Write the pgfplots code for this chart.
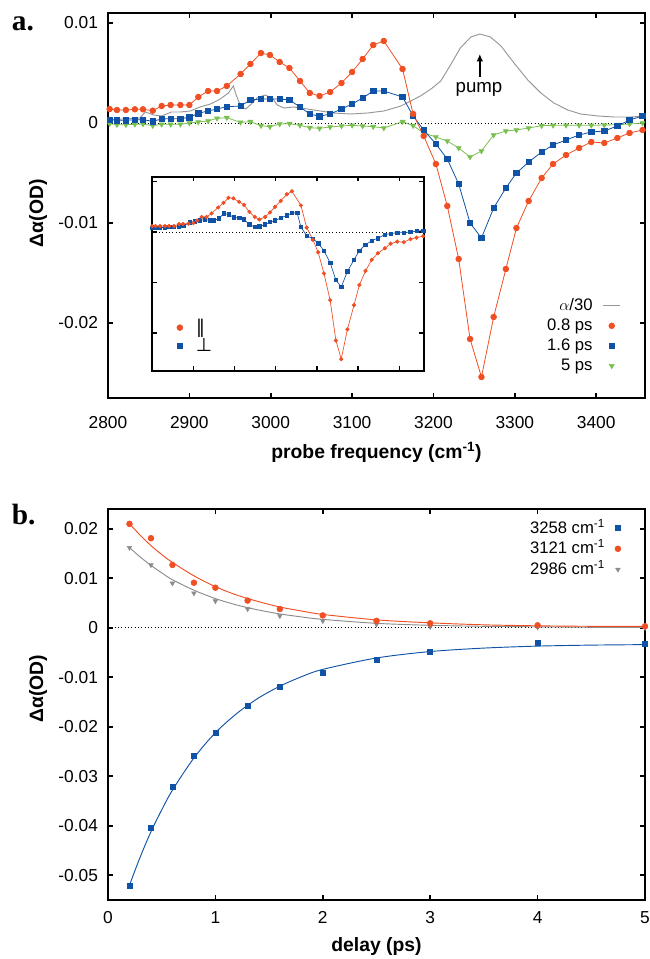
\documentclass[border=0pt]{standalone}
\usepackage{pgfplots}
\pgfplotsset{compat=1.18}
\usepackage{fontspec}
\setmainfont{Liberation Sans}
\newfontfamily\serifbold{Liberation Serif}
\newfontfamily\dejavu{DejaVu Sans}
\usetikzlibrary{arrows.meta}
\definecolor{cred}{RGB}{240,78,35}
\definecolor{cblue}{RGB}{16,82,165}
\definecolor{cgreen}{RGB}{122,192,80}
\definecolor{cgray}{RGB}{150,150,150}
\definecolor{cgrayb}{RGB}{140,140,140}
\pgfplotsset{
  myframe/.style={
    scale only axis,
    scaled ticks=false,
    axis line style={line width=1.6pt},
    every tick/.style={black, line width=1.2pt},
    tick align=inside,
    major tick length=4pt,
    ticklabel style={font=\fontsize{13}{15}\selectfont},
    /pgf/number format/assume math mode=true,
    /pgf/number format/1000 sep={},
    label style={font=\bfseries\fontsize{14.5}{17}\selectfont},
  },
  lgline/.style={legend image code/.code={\draw[##1] (0pt,0pt) -- (13pt,0pt);}},
  lgmarkR/.style={legend image code/.code={\draw[##1] plot coordinates {(6.5pt,0pt)};}},
  lgmarkL/.style={legend image code/.code={\draw[##1] plot coordinates {(0pt,0pt)};}},
}
\begin{document}
\begin{tikzpicture}
\path[use as bounding box] (0pt,0pt) rectangle (486.75pt,-719.25pt);

% ---------------- panel a ----------------
\begin{axis}[myframe,
  at={(81pt,-9.75pt)}, anchor=north west,
  width=402.75pt, height=288.75pt,
  xmin=2800, xmax=3460, ymin=-0.0275, ymax=0.011,
  xtick={2800,2900,...,3400},
  ytick={-0.02,-0.01,0,0.01}, yticklabels={-0.02,-0.01,0,0.01},
  xticklabel style={yshift=-10pt},
  yticklabel style={xshift=-4pt},
  xlabel={probe frequency (cm\textsuperscript{-1})},
  ylabel={Δα(OD)},
  xlabel style={at={(axis description cs:0.5,-0.14)}, anchor=center},
  ylabel style={at={(axis description cs:-0.13,0.48)}, anchor=center},
  legend style={draw=none, fill=none, at={(0.963,0.05)}, anchor=south east,
    font=\fontsize{12.5}{14}\selectfont,
    nodes={inner sep=1.5pt, text height=9.5pt, text depth=2.5pt},
    column sep=6pt, row sep=0pt},
  legend cell align=right, legend plot pos=right,
]
\addlegendimage{lgline, cgray, line width=0.7pt}
\addlegendentry{$\alpha$/30}
\addlegendimage{lgmarkR, only marks, mark=*, cred, mark size=2.2pt}
\addlegendentry{0.8 ps}
\addlegendimage{lgmarkR, only marks, mark=square*, cblue, mark size=2.2pt}
\addlegendentry{1.6 ps}
\addlegendimage{lgmarkR, only marks, mark=triangle*, cgreen, mark size=2.2pt, mark options={rotate=180}}
\addlegendentry{5 ps}

\addplot[black, dotted, line width=0.5pt, forget plot] coordinates {(2800,0) (3460,0)};

% alpha/30
\addplot[cgray, line width=0.7pt, forget plot] coordinates {
(2802,0.00033) (2839,0.0005) (2846,0.0011) (2856,0.0008) (2866,0.0007) (2878,0.0011)
(2889,0.0011) (2901,0.0012) (2913,0.0016) (2926,0.0019) (2938,0.0024) (2948,0.0030)
(2954,0.0037) (2958,0.0027) (2963,0.0017) (2969,0.0014) (2975,0.0018) (2983,0.0025)
(2993,0.0028) (3002,0.0025) (3008,0.0018) (3016,0.0015) (3028,0.0016) (3045,0.0014)
(3061,0.0012) (3077,0.0010) (3098,0.0009) (3119,0.0010) (3139,0.0012) (3160,0.0017)
(3184,0.0027) (3197,0.0034) (3209,0.0042) (3221,0.0058) (3233,0.0075) (3246,0.0086)
(3257,0.0089) (3270,0.0086) (3283,0.0077) (3299,0.0060) (3316,0.0043) (3332,0.0030)
(3348,0.0020) (3365,0.0013) (3381,0.0009) (3402,0.0007) (3422,0.0006) (3443,0.0006) (3460,0.0007)};

% 5 ps
\addplot[cgreen, line width=0.6pt, mark=triangle*, mark size=2pt, mark options={rotate=180}, forget plot] coordinates {
(2802,-0.00007) (2811,-0.00017) (2822,-0.00017) (2833,-0.00013) (2843,-0.0001) (2855,-0.00027)
(2866,-0.00013) (2877,-0.00013) (2889,-0.00013) (2900,0.0) (2911,0.0001) (2923,0.0002)
(2934,0.00047) (2946,0.00053) (2963,0.00007) (2975,0.00013) (2988,-0.00027) (2999,-0.00037)
(3011,-0.0001) (3023,-0.00007) (3036,-0.00023) (3048,-0.00047) (3060,-0.00053) (3073,-0.0004)
(3087,-0.0003) (3100,-0.00023) (3113,-0.0003) (3126,-0.00037) (3139,-0.0005) (3162,0.00013)
(3175,-0.00027) (3188,-0.001) (3203,-0.0014) (3217,-0.0018) (3231,-0.0025) (3245,-0.0034)
(3259,-0.0028) (3274,-0.0012) (3289,-0.0008) (3302,-0.0007) (3317,-0.0005) (3333,-0.00027)
(3347,-0.00023) (3363,-0.00023) (3379,-0.00023) (3394,-0.00023) (3410,-0.0002) (3426,-0.00017)
(3441,-0.0001) (3457,0.0)};

% 1.6 ps
\addplot[cblue, line width=0.6pt, mark=square*, mark size=2pt, forget plot] coordinates {
(2802,0.00033) (2811,0.00027) (2822,0.00027) (2833,0.00033) (2843,0.00033) (2855,0.00017)
(2866,0.0004) (2877,0.00043) (2889,0.00043) (2900,0.00057) (2911,0.00097) (2923,0.0012)
(2934,0.0014) (2946,0.00163) (2963,0.0017) (2975,0.0023) (2988,0.0024) (2999,0.0024)
(3011,0.0024) (3023,0.0023) (3036,0.0016) (3048,0.0009) (3060,0.00067) (3073,0.0009)
(3087,0.0014) (3100,0.0019) (3113,0.0025) (3126,0.0032) (3139,0.0032) (3162,0.0026)
(3175,0.0007) (3188,-0.0007) (3203,-0.0021) (3217,-0.0036) (3231,-0.0061) (3245,-0.0100)
(3259,-0.0115) (3274,-0.0085) (3289,-0.0065) (3302,-0.0050) (3317,-0.0039) (3333,-0.0029)
(3347,-0.0022) (3363,-0.0017) (3379,-0.0012) (3394,-0.0009) (3410,-0.0008) (3426,-0.0003)
(3441,0.0003) (3457,0.0007)};

% 0.8 ps
\addplot[cred, line width=0.6pt, mark=*, mark size=2.1pt, forget plot] coordinates {
(2802,0.0014) (2811,0.0013) (2822,0.0013) (2833,0.00137) (2843,0.00137) (2855,0.00123)
(2866,0.0017) (2877,0.0018) (2889,0.0018) (2900,0.0018) (2911,0.0026) (2923,0.0032)
(2934,0.0032) (2946,0.0037) (2963,0.0049) (2975,0.0059) (2988,0.0070) (2999,0.0068)
(3011,0.0061) (3023,0.0055) (3036,0.0042) (3048,0.0030) (3060,0.0027) (3073,0.0031)
(3087,0.0040) (3100,0.0051) (3113,0.0064) (3126,0.0078) (3139,0.0082) (3162,0.0054)
(3175,0.0009) (3188,-0.0013) (3203,-0.0041) (3217,-0.0083) (3231,-0.0136) (3245,-0.0216)
(3259,-0.0254) (3274,-0.0194) (3289,-0.0146) (3302,-0.0105) (3317,-0.0078) (3333,-0.0055)
(3347,-0.0041) (3363,-0.0032) (3379,-0.0025) (3394,-0.0019) (3410,-0.0020) (3426,-0.0015)
(3441,-0.0010) (3457,-0.0007)};

\node[font=\fontsize{14}{16}\selectfont] at (axis cs:3256,0.0034) {pump};
\draw[-{Latex[length=5.5pt,width=5pt]}, line width=1.8pt] (axis cs:3257,0.0046) -- (axis cs:3257,0.0069);
\end{axis}

% ---------------- inset ----------------
\begin{axis}[myframe,
  at={(114.2pt,-132.5pt)}, anchor=north west,
  width=203.8pt, height=145.5pt,
  axis line style={line width=1.3pt},
  every tick/.style={black, line width=1pt},
  major tick length=3.5pt,
  axis background/.style={fill=white},
  xmin=2800, xmax=3460, ymin=-0.0275, ymax=0.011,
  xtick={2800,2900,...,3400}, ytick={-0.02,-0.01,0,0.01},
  xticklabels={}, yticklabels={},
  legend style={draw=none, fill=none, at={(0.075,0.07)}, anchor=south west,
    font=\dejavu\fontsize{14}{15}\selectfont,
    nodes={inner sep=0.8pt, text height=10pt, text depth=1pt},
    column sep=9pt, row sep=1pt},
  legend cell align=left,
]
\addlegendimage{lgmarkL, only marks, mark=*, cred, mark size=2.2pt}
\addlegendentry{∥}
\addlegendimage{lgmarkL, only marks, mark=square*, cblue, mark size=2pt}
\addlegendentry{⊥}
\addplot[black, dotted, line width=0.5pt, forget plot] coordinates {(2800,0) (3460,0)};
% perp
\addplot[cblue, line width=0.5pt, mark=square*, mark size=1.3pt, forget plot] coordinates {
(2800,0.00087) (2808,0.00087) (2819,0.00087) (2831,0.00093) (2841,0.001) (2853,0.001)
(2865,0.0011) (2875,0.0012) (2891,0.0019) (2904,0.0021) (2916,0.0023) (2928,0.0025)
(2940,0.0023) (2950,0.0023) (2962,0.0027) (2974,0.0037) (2986,0.0035) (2998,0.0029)
(3011,0.0028) (3023,0.0025) (3036,0.0015) (3049,0.001) (3060,0.0011) (3074,0.0015)
(3086,0.002) (3098,0.0023) (3112,0.0028) (3127,0.0033) (3139,0.0038) (3152,0.0038)
(3161,0.001) (3175,-0.0007) (3190,-0.0013) (3203,-0.0022) (3217,-0.0037) (3232,-0.0061)
(3246,-0.0095) (3259,-0.0109) (3274,-0.0078) (3290,-0.0055) (3303,-0.0037) (3318,-0.0025)
(3333,-0.0017) (3348,-0.0012) (3365,-0.0005) (3379,-0.0003) (3395,-0.0001) (3411,-0.0001)
(3427,0.0) (3442,0.0002) (3458,0.0003)};
% parallel
\addplot[cred, line width=0.5pt, mark=*, mark size=1.3pt, forget plot] coordinates {
(2800,0.0012) (2808,0.0012) (2819,0.0012) (2831,0.0012) (2841,0.0012) (2853,0.0012)
(2865,0.0016) (2875,0.0016) (2888,0.00167) (2900,0.0018) (2909,0.0023) (2920,0.003)
(2932,0.003) (2944,0.0037) (2960,0.0049) (2973,0.0058) (2985,0.0068) (2997,0.0067)
(3011,0.006) (3023,0.0054) (3036,0.004) (3049,0.003) (3060,0.0025) (3074,0.003)
(3086,0.0039) (3098,0.005) (3112,0.0062) (3127,0.0075) (3139,0.0081) (3161,0.0053)
(3175,0.0009) (3190,-0.0015) (3203,-0.004) (3217,-0.0082) (3232,-0.0135) (3246,-0.0215)
(3259,-0.0252) (3274,-0.0193) (3290,-0.0145) (3303,-0.0105) (3318,-0.0077) (3333,-0.0055)
(3348,-0.0042) (3365,-0.0032) (3379,-0.0023) (3395,-0.0019) (3411,-0.002) (3427,-0.0014)
(3442,-0.0011) (3458,-0.0008)};
\end{axis}

% ---------------- panel b ----------------
\begin{axis}[myframe,
  at={(81pt,-381.75pt)}, anchor=north west,
  width=402.75pt, height=293.25pt,
  xmin=0, xmax=5, ymin=-0.055, ymax=0.024,
  xtick={0,1,2,3,4,5},
  ytick={-0.05,-0.04,-0.03,-0.02,-0.01,0,0.01,0.02},
  yticklabels={-0.05,-0.04,-0.03,-0.02,-0.01,0,0.01,0.02},
  xticklabel style={yshift=-5pt},
  yticklabel style={xshift=-4pt},
  xlabel={delay (ps)},
  ylabel={Δα(OD)},
  xlabel style={at={(axis description cs:0.5,-0.12)}, anchor=center},
  ylabel style={at={(axis description cs:-0.13,0.54)}, anchor=center},
  legend style={draw=none, fill=none, at={(0.963,0.985)}, anchor=north east,
    font=\fontsize{12.5}{14}\selectfont,
    nodes={inner sep=1.5pt, text height=10pt, text depth=2.5pt},
    column sep=6pt, row sep=0pt},
  legend cell align=right, legend plot pos=right,
]
\addlegendimage{lgmarkR, only marks, mark=square*, cblue, mark size=1.9pt}
\addlegendentry{3258 cm\textsuperscript{-1}}
\addlegendimage{lgmarkR, only marks, mark=*, cred, mark size=2.2pt}
\addlegendentry{3121 cm\textsuperscript{-1}}
\addlegendimage{lgmarkR, only marks, mark=triangle*, cgrayb, mark size=2pt, mark options={rotate=180}}
\addlegendentry{2986 cm\textsuperscript{-1}}

\addplot[black, dotted, line width=0.5pt, forget plot] coordinates {(0,0) (5,0)};
% fits
\addplot[cgrayb, line width=0.7pt, smooth, forget plot] coordinates {
(0.2,0.0162) (0.3,0.0143) (0.4,0.0126) (0.5,0.0111) (0.6,0.0097) (0.8,0.0076) (1.0,0.0059)
(1.2,0.0046) (1.4,0.0036) (1.6,0.0028) (1.8,0.0022) (2.0,0.0017) (2.5,0.0009) (3.0,0.0005)
(3.5,0.0003) (4.0,0.0002) (4.5,0.0001) (5.0,0.0001)};
\addplot[cred, line width=0.7pt, smooth, forget plot] coordinates {
(0.2,0.0210) (0.3,0.0187) (0.4,0.0166) (0.5,0.0148) (0.6,0.0132) (0.8,0.0105) (1.0,0.0083)
(1.2,0.0066) (1.4,0.0053) (1.6,0.0042) (1.8,0.0034) (2.0,0.0027) (2.5,0.0016) (3.0,0.0010)
(3.5,0.0006) (4.0,0.0004) (4.5,0.0003) (5.0,0.0003)};
\addplot[cblue, line width=0.7pt, smooth, forget plot] coordinates {
(0.2,-0.0520) (0.3,-0.0463) (0.4,-0.0412) (0.5,-0.0368) (0.6,-0.0328) (0.8,-0.0263) (1.0,-0.0212)
(1.2,-0.0173) (1.4,-0.0142) (1.6,-0.0118) (1.8,-0.0099) (2.0,-0.0084) (2.5,-0.0061) (3.0,-0.0048)
(3.5,-0.0041) (4.0,-0.0037) (4.5,-0.0035) (5.0,-0.0034)};
% data
\addplot[only marks, mark=triangle*, cgrayb, mark size=2pt, mark options={rotate=180}, forget plot] coordinates {
(0.2,0.0162) (0.4,0.0127) (0.6,0.0090) (0.8,0.0070) (1.0,0.0054) (1.3,0.0038) (1.6,0.0024)
(2.0,0.0014) (2.5,0.0007) (3.0,0.0002) (4.0,0.0001) (5.0,0.0)};
\addplot[only marks, mark=*, cred, mark size=2.2pt, forget plot] coordinates {
(0.2,0.0210) (0.4,0.0181) (0.6,0.0127) (0.8,0.0091) (1.0,0.0081) (1.3,0.0055) (1.6,0.0038)
(2.0,0.0025) (2.5,0.0014) (3.0,0.0009) (4.0,0.0005) (5.0,0.0003)};
\addplot[only marks, mark=square*, cblue, mark size=1.9pt, forget plot] coordinates {
(0.2,-0.0521) (0.4,-0.0404) (0.6,-0.0321) (0.8,-0.0258) (1.0,-0.0212) (1.3,-0.0158) (1.6,-0.0119)
(2.0,-0.0090) (2.5,-0.0064) (3.0,-0.0048) (4.0,-0.0030) (5.0,-0.0032)};
\end{axis}

\node[anchor=base west, inner sep=0pt, font=\serifbold\bfseries\fontsize{22}{24}\selectfont] at (8.75pt,-23pt) {a.};
\node[anchor=base west, inner sep=0pt, font=\serifbold\bfseries\fontsize{22}{24}\selectfont] at (8.75pt,-393.2pt) {b.};
\end{tikzpicture}
\end{document}
